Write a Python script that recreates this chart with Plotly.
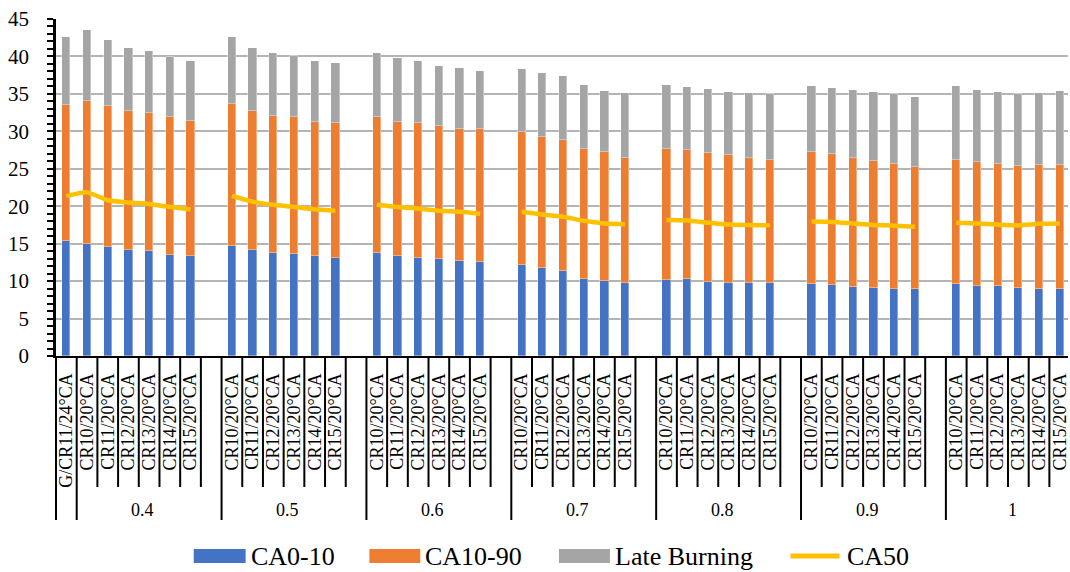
import plotly.graph_objects as go

# ---------------- data ----------------
group_labels = ["", "0.4", "0.5", "0.6", "0.7", "0.8", "0.9", "1"]
group_subcats = [
    ["G/CR11/24°CA"],
    ["CR10/20°CA", "CR11/20°CA", "CR12/20°CA", "CR13/20°CA", "CR14/20°CA", "CR15/20°CA"],
    ["CR10/20°CA", "CR11/20°CA", "CR12/20°CA", "CR13/20°CA", "CR14/20°CA", "CR15/20°CA"],
    ["CR10/20°CA", "CR11/20°CA", "CR12/20°CA", "CR13/20°CA", "CR14/20°CA", "CR15/20°CA"],
    ["CR10/20°CA", "CR11/20°CA", "CR12/20°CA", "CR13/20°CA", "CR14/20°CA", "CR15/20°CA"],
    ["CR10/20°CA", "CR11/20°CA", "CR12/20°CA", "CR13/20°CA", "CR14/20°CA", "CR15/20°CA"],
    ["CR10/20°CA", "CR11/20°CA", "CR12/20°CA", "CR13/20°CA", "CR14/20°CA", "CR15/20°CA"],
    ["CR10/20°CA", "CR11/20°CA", "CR12/20°CA", "CR13/20°CA", "CR14/20°CA", "CR15/20°CA"],
]

ca0_10 = [
    15.4,
    15.0, 14.6, 14.2, 14.05, 13.5, 13.3,
    14.7, 14.2, 13.8, 13.6, 13.3, 13.15,
    13.8, 13.4, 13.15, 12.95, 12.7, 12.6,
    12.2, 11.75, 11.3, 10.3, 10.0, 9.75,
    10.1, 10.3, 9.9, 9.75, 9.7, 9.7,
    9.6, 9.5, 9.2, 9.05, 8.95, 8.95,
    9.65, 9.35, 9.35, 9.1, 8.95, 8.9,
]
ca10_90 = [
    18.1,
    19.05, 18.75, 18.5, 18.35, 18.4, 18.1,
    18.9, 18.55, 18.3, 18.3, 18.0, 18.0,
    18.15, 17.9, 17.9, 17.75, 17.65, 17.65,
    17.7, 17.55, 17.5, 17.4, 17.3, 16.75,
    17.6, 17.2, 17.15, 17.05, 16.8, 16.5,
    17.7, 17.5, 17.2, 17.05, 16.75, 16.35,
    16.55, 16.5, 16.35, 16.25, 16.5, 16.55,
]
late_burning = [
    9.15,
    9.5, 8.85, 8.4, 8.3, 8.0, 7.95,
    9.0, 8.35, 8.4, 8.1, 8.05, 7.95,
    8.45, 8.45, 8.35, 8.0, 8.05, 7.8,
    8.4, 8.55, 8.55, 8.5, 8.1, 8.6,
    8.5, 8.4, 8.55, 8.45, 8.6, 8.8,
    8.75, 8.8, 9.1, 9.15, 9.25, 9.35,
    9.8, 9.65, 9.55, 9.6, 9.65, 9.95,
]
ca50 = [
    21.35,
    21.85, 20.8, 20.5, 20.3, 19.9, 19.6,
    21.4, 20.6, 20.2, 19.9, 19.6, 19.4,
    20.2, 19.9, 19.7, 19.4, 19.25, 19.0,
    19.25, 18.9, 18.6, 18.05, 17.7, 17.6,
    18.15, 18.1, 17.8, 17.55, 17.5, 17.45,
    17.95, 17.9, 17.7, 17.5, 17.4, 17.25,
    17.8, 17.7, 17.55, 17.45, 17.65, 17.7,
]

# ---------------- slot layout (category index with a blank slot after each group) ----------------
positions, ticktext, group_ranges = [], [], []
slot = 0
for gi, subs in enumerate(group_subcats):
    start = slot
    for s in subs:
        positions.append(slot)
        ticktext.append(s)
        slot += 1
    end_bars = slot - 1
    if gi >= 1 and gi < len(group_subcats) - 1:
        slot += 1  # blank slot belongs to the group
    group_ranges.append((start, end_bars, slot - 1))
n_slots = slot

BLUE, ORANGE, GRAY, YELLOW = "#4472C4", "#ED7D31", "#A5A5A5", "#FFC000"
FONT = "Liberation Serif, Times New Roman, serif"

fig = go.Figure()
for name, vals, col in [("CA0-10", ca0_10, BLUE), ("CA10-90", ca10_90, ORANGE),
                        ("Late Burning", late_burning, GRAY)]:
    fig.add_trace(go.Bar(x=positions, y=vals, name=name, width=0.4,
                         marker=dict(color=col, line=dict(width=0.6, color="rgba(255,255,255,0.6)")),
                         showlegend=False))

# CA50 line, broken between the blank slots (G bar joins the 0.4 group)
line_x, line_y = [], []
idx = 0
segments = [[0, 1]] + [[g] for g in range(2, len(group_subcats))]
for seg in segments:
    for g in seg:
        for _ in group_subcats[g]:
            line_x.append(positions[idx])
            line_y.append(ca50[idx])
            idx += 1
    line_x.append(None)
    line_y.append(None)
fig.add_trace(go.Scatter(x=line_x, y=line_y, mode="lines", name="CA50",
                         line=dict(color=YELLOW, width=4.5, shape="spline", smoothing=0.6),
                         connectgaps=False, showlegend=False))

# ---------------- geometry ----------------
W, H = 1070, 572
L, T, B_PX = 56, 19, 356
XMIN, XMAX = -0.5, n_slots - 0.6
plot_w = W - L
plot_h = B_PX - T


def xp(v):
    return (v - XMIN) / (XMAX - XMIN)


def px_x(p):
    return (p - L) / plot_w


def px_y(p):
    return (B_PX - p) / plot_h


shapes = []
group_bounds = set()
for (s, e, last) in group_ranges:
    group_bounds.add(s - 0.5)
    group_bounds.add(last + 0.5)
for k in range(n_slots + 1):
    b = k - 0.5
    if b > XMAX:
        continue
    y1 = px_y(520) if b in group_bounds else px_y(487)
    shapes.append(dict(type="line", xref="paper", yref="paper", x0=xp(b), x1=xp(b),
                       y0=0, y1=y1, line=dict(color="black", width=2)))

annotations = []
for gi, (s, e, last) in enumerate(group_ranges):
    if group_labels[gi]:
        cx = (s + e) / 2 + 0.2
        annotations.append(dict(x=xp(cx), y=px_y(510), xref="paper", yref="paper",
                                text=group_labels[gi], showarrow=False,
                                font=dict(family=FONT, size=18, color="black"),
                                xanchor="center", yanchor="middle"))

# manual legend
legend_items = [("CA0-10", BLUE, "rect", 194, 246), ("CA10-90", ORANGE, "rect", 370, 421),
                ("Late Burning", GRAY, "rect", 560, 611), ("CA50", YELLOW, "line", 789, 844)]
ly = 556
for text, col, kind, x0, x1 in legend_items:
    if kind == "rect":
        shapes.append(dict(type="rect", xref="paper", yref="paper",
                           x0=px_x(x0), x1=px_x(x1), y0=px_y(ly + 7), y1=px_y(ly - 7),
                           fillcolor=col, line=dict(width=0)))
    else:
        shapes.append(dict(type="line", xref="paper", yref="paper",
                           x0=px_x(x0 + 3), x1=px_x(x1 - 3), y0=px_y(ly), y1=px_y(ly),
                           line=dict(color=col, width=5)))
    annotations.append(dict(x=px_x(x1 + 3), y=px_y(ly), xref="paper", yref="paper",
                            text=text, showarrow=False, xanchor="left", yanchor="middle",
                            font=dict(family=FONT, size=26, color="black")))

fig.update_layout(
    width=W, height=H,
    margin=dict(l=L, r=0, t=T, b=H - B_PX, pad=0),
    barmode="stack", bargap=0,
    plot_bgcolor="white", paper_bgcolor="white",
    showlegend=False,
    shapes=shapes, annotations=annotations,
    xaxis=dict(range=[XMIN, XMAX], tickmode="array", tickvals=positions, ticktext=ticktext,
               tickangle=-90, tickfont=dict(family=FONT, size=18, color="black"),
               ticks="outside", ticklen=8, tickcolor="rgba(0,0,0,0)",
               ticklabeloverflow="allow",
               showgrid=False, zeroline=False, showline=True, linecolor="black", linewidth=2),
    yaxis=dict(range=[0, 45], dtick=5, tickfont=dict(family=FONT, size=21, color="black"),
               ticks="outside", ticklen=6, tickwidth=2, tickcolor="black",
               ticklabelstandoff=14,
               minor=dict(dtick=1, ticks="outside", ticklen=6, tickwidth=2, tickcolor="black",
                          showgrid=False),
               showgrid=True, gridcolor="#B4B4B4", gridwidth=1.5,
               zeroline=False, showline=True, linecolor="black", linewidth=2.5),
)

fig.write_html(
    "out.html",
    config={"displayModeBar": False},
    post_script="document.body.style.margin='0';document.body.style.padding='0';"
                "document.documentElement.style.overflow='hidden';",
)
